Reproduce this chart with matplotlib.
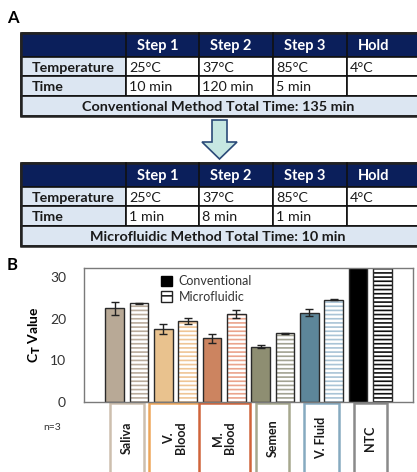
import numpy as np
import matplotlib
matplotlib.use("Agg")
import matplotlib.pyplot as plt
from matplotlib.patches import Rectangle, Polygon
from matplotlib.patches import Patch
import matplotlib.transforms as mtransforms

plt.rcParams['font.family'] = ['Lato', 'DejaVu Sans']
plt.rcParams['hatch.linewidth'] = 1.2

# ---- data ----
steps = ["Step 1", "Step 2", "Step 3", "Hold"]
temps = ["25\u00b0C", "37\u00b0C", "85\u00b0C", "4\u00b0C"]
conv_times = ["10 min", "120 min", "5 min", ""]
micro_times = ["1 min", "8 min", "1 min", ""]
conv_total = "Conventional Method Total Time: 135 min"
micro_total = "Microfluidic Method Total Time: 10 min"

samples = ["Saliva", "V.\nBlood", "M.\nBlood", "Semen", "V. Fluid", "NTC"]
ct_conv = [22.5, 17.5, 15.3, 13.3, 21.5, 35]
ct_conv_err = [1.5, 1.2, 1.1, 0.4, 0.8, 0]
ct_micro = [23.7, 19.5, 21.1, 16.5, 24.6, 35]
ct_micro_err = [0.2, 0.8, 0.9, 0.2, 0.2, 0]

# ---- style ----
fill_cols = ['#b8a996', '#e9c28e', '#cc8460', '#8e8e72', '#5d8699', '#000000']
hatch_cols = ['#b9ab9b', '#efc596', '#eaa48c', '#a3a393', '#a9c4d6', '#111111']
box_cols = ['#cdbfae', '#eea65a', '#d0643a', '#a6a88e', '#86aac0', '#8a8a8a']
box_w = [0.70, 1.09, 1.05, 0.68, 0.72, 0.68]
navy = '#0b1f5b'
pale = '#dce6f2'

fig = plt.figure(figsize=(4.17, 4.72), dpi=100)
bg = fig.add_axes([0, 0, 1, 1])
bg.set_xlim(0, 417)
bg.set_ylim(472, 0)
bg.axis('off')

col_x = [21, 126, 199, 273, 347, 421]


def draw_table(top, times, total):
    hs = [24, 19, 20, 20]
    ys = np.cumsum([top] + hs)
    # header row
    bg.add_patch(Rectangle((col_x[0], ys[0]), col_x[-1] - col_x[0], hs[0],
                           facecolor=navy, edgecolor='#111111', lw=1.2))
    for i, s in enumerate(steps):
        bg.text(col_x[i + 1] + 11, ys[0] + hs[0] / 2 + 1, s, color='white',
                fontsize=10.5, fontweight='bold', va='center', ha='left')
    for r, (lab, vals) in enumerate([("Temperature", temps), ("Time", times)]):
        y0 = ys[r + 1]
        for c in range(5):
            fc = pale if c == 0 else 'white'
            bg.add_patch(Rectangle((col_x[c], y0), col_x[c + 1] - col_x[c], hs[r + 1],
                                   facecolor=fc, edgecolor='#111111', lw=1.2))
        bg.text(col_x[0] + 11, y0 + hs[r + 1] / 2 + 1, lab, fontsize=10.3,
                fontweight='bold', va='center', ha='left', color='#1a1a1a')
        for c, v in enumerate(vals):
            bg.text(col_x[c + 1] + 3, y0 + hs[r + 1] / 2 + 1, v, fontsize=10.3,
                    va='center', ha='left', color='#1a1a1a')
    for c in range(1, 5):
        bg.plot([col_x[c], col_x[c]], [ys[0], ys[1]], color='#111111', lw=1.2)
    bg.add_patch(Rectangle((col_x[0], ys[3]), col_x[-1] - col_x[0], hs[3],
                           facecolor=pale, edgecolor='#111111', lw=1.2))
    bg.text(218, ys[3] + hs[3] / 2 + 1, total, fontsize=10.4,
            fontweight='bold', va='center', ha='center', color='#1a1a1a')
    bg.add_patch(Rectangle((col_x[0], ys[0]), col_x[-1] - col_x[0], ys[-1] - ys[0],
                           facecolor='none', edgecolor='#222222', lw=1.8))


draw_table(33, conv_times, conv_total)
draw_table(163, micro_times, micro_total)

arrow = Polygon([(212, 120), (227, 120), (227, 142), (237, 142), (219.5, 159),
                 (202, 142), (212, 142)], closed=True, facecolor='#c6e7e2',
                edgecolor='#2b4a78', lw=1.2)
bg.add_patch(arrow)

bg.text(7, 18, "A", fontsize=12, fontweight='bold', va='center')
bg.text(7, 265, "B", fontsize=12, fontweight='bold', va='center')
bg.text(52, 427, "n=3", fontsize=7.5, va='center', ha='center', color='#333333')

# ---- bar chart ----
ax = fig.add_axes([84 / 417, 70 / 472, 329 / 417, 134 / 472])
x = np.arange(len(samples))
w = 0.39
off = 0.25
ax.bar(x - off, ct_conv, w, color=fill_cols, edgecolor='#2a2a2a', lw=1.0,
       yerr=ct_conv_err, error_kw=dict(ecolor='#222222', elinewidth=1, capsize=3, capthick=1))
ax.bar(x + off, ct_micro, w, color='white', edgecolor=hatch_cols, lw=0, hatch='----')
ax.bar(x + off, ct_micro, w, color='none', edgecolor='#2a2a2a', lw=1.0,
       yerr=ct_micro_err, error_kw=dict(ecolor='#222222', elinewidth=1, capsize=3, capthick=1))

ax.set_xlim(-0.88, 5.88)
ax.set_ylim(0, 32.2)
ax.set_yticks([0, 10, 20, 30])
ax.set_xticks([])
ax.tick_params(axis='y', length=0, pad=13, labelsize=10, labelcolor='#333333')
for sp in ax.spines.values():
    sp.set_color('#7a7a7a')
    sp.set_linewidth(1.0)
ax.set_ylabel(r"C$_\mathbf{T}$ Value", fontsize=10, fontweight='bold', labelpad=5)

trans = mtransforms.blended_transform_factory(ax.transData, ax.transAxes)
for i, s in enumerate(samples):
    ax.add_patch(Rectangle((x[i] - box_w[i] / 2, -0.61), box_w[i], 0.6,
                           transform=trans, facecolor='white', edgecolor=box_cols[i],
                           lw=1.8, clip_on=False))
    ax.text(x[i], -0.27, s, transform=trans, rotation=90, fontsize=9,
            fontweight='bold', ha='center', va='center', color='#1a1a1a',
            multialignment='center', linespacing=1.0)

handles = [Patch(facecolor='black', edgecolor='black'),
           Patch(facecolor='white', edgecolor='#222222', hatch='--')]
ax.legend(handles, ["Conventional", "Microfluidic"], loc='upper left',
          bbox_to_anchor=(0.2, 1.03), frameon=False, fontsize=9,
          handlelength=0.9, handleheight=0.9, handletextpad=0.5, labelspacing=0.3,
          labelcolor='#333333')

fig.savefig("out.png", dpi=100)
